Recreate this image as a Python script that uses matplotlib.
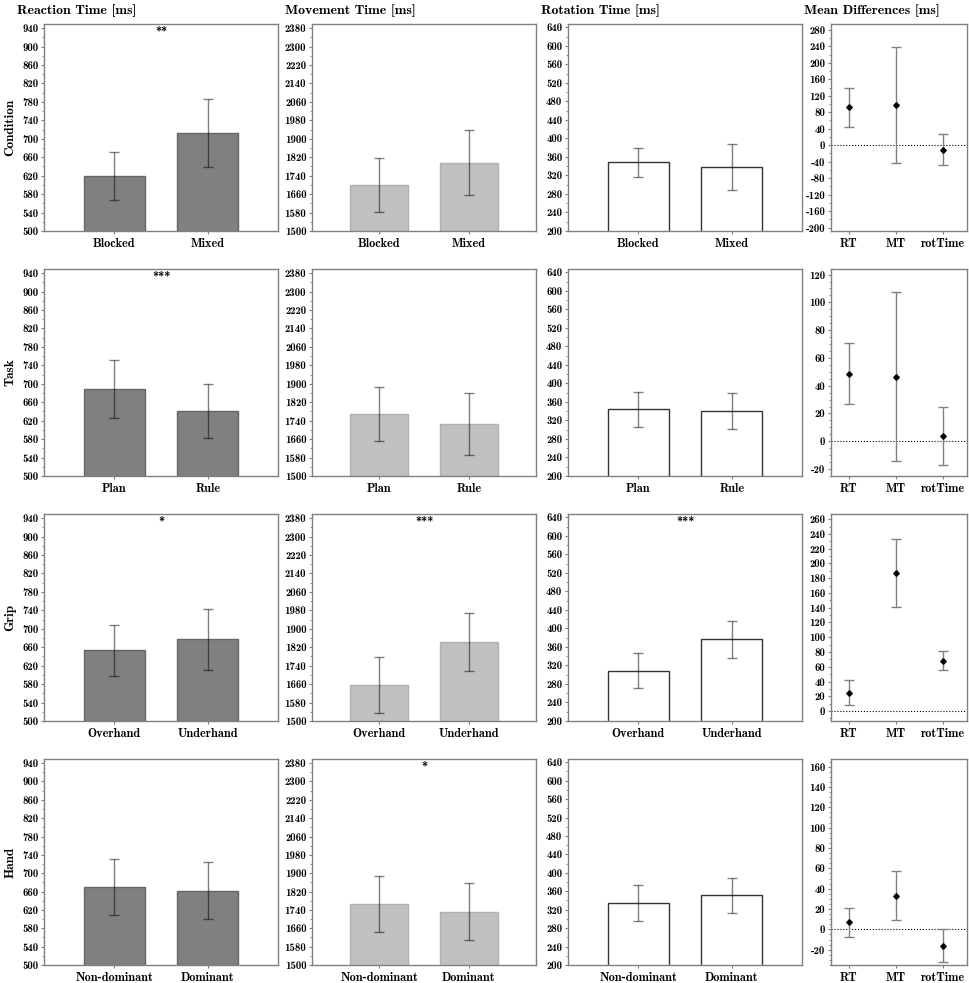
import matplotlib.pyplot as plt
import numpy as np
from matplotlib.ticker import FixedLocator, AutoMinorLocator

plt.rcParams['font.family'] = ['cmb10', 'DejaVu Serif']
plt.rcParams['axes.unicode_minus'] = False

# datos
rows = ['Condition', 'Task', 'Grip', 'Hand']
titles = ['Reaction Time [ms]', 'Movement Time [ms]', 'Rotation Time [ms]', 'Mean Differences [ms]']
cats = [['Blocked', 'Mixed'], ['Plan', 'Rule'], ['Overhand', 'Underhand'], ['Non-dominant', 'Dominant']]

rt_mean = [[620, 712], [689, 641], [653, 677], [669, 662]]
rt_err = [[52, 74], [63, 59], [55, 66], [61, 62]]
mt_mean = [[1701, 1797], [1771, 1725], [1656, 1842], [1765, 1732]]
mt_err = [[117, 142], [117, 134], [122, 126], [121, 125]]
rot_mean = [[348, 338], [344, 340], [309, 377], [335, 351]]
rot_err = [[32, 49], [38, 39], [37, 40], [39, 38]]

diff_labels = ['RT', 'MT', 'rotTime']
diff_mean = [[92, 98, -11], [48.5, 46.5, 4], [25, 187, 68], [7, 33, -16]]
diff_err = [[48, 141, 38], [22, 61, 21], [17, 46, 13], [14, 24, 16]]

stars = [['**', '', ''], ['***', '', ''], ['*', '***', '***'], ['', '*', '']]

# estilos
W, H = 970, 983
cols_px = [(44, 278), (312, 536), (568, 802), (831, 967)]
rows_px = [(24, 231), (269, 476), (514, 721), (759, 965)]
bar_style = [dict(color='#808080', edgecolor='#666666'),
             dict(color='#c0c0c0', edgecolor='#b0b0b0'),
             dict(color='white', edgecolor='#333333')]
# (ymin, ymax, primer tick, paso)
bar_lims = [(500, 949, 500, 40), (1500, 2398, 1500, 80), (200, 647, 200, 40)]
diff_lims = [(-208, 294, -200, 40), (-25, 124, -20, 20), (-13.5, 267, 0, 20), (-35, 167.5, -20, 20)]
diff_minor = [2, 4, 2, 4]
spine_c = '#808080'

fig = plt.figure(figsize=(W / 100, H / 100), dpi=100)


def make_ax(r, c):
    x0, x1 = cols_px[c]
    y0, y1 = rows_px[r]
    ax = fig.add_axes([x0 / W, 1 - y1 / H, (x1 - x0) / W, (y1 - y0) / H])
    for s in ax.spines.values():
        s.set_color(spine_c)
        s.set_linewidth(1.0)
    ax.tick_params(axis='both', which='both', color=spine_c, direction='out')
    ax.tick_params(axis='y', which='major', length=2.5, labelsize=7.8, pad=1.5)
    ax.tick_params(axis='y', which='minor', length=1.5)
    ax.tick_params(axis='x', length=2, labelsize=8.8, pad=3)
    return ax


def set_yticks(ax, lims, nminor):
    lo, hi, first, st = lims
    ax.set_ylim(lo, hi)
    ax.yaxis.set_major_locator(FixedLocator(np.arange(first, hi + 0.01, st)))
    ax.yaxis.set_minor_locator(AutoMinorLocator(nminor))


for r in range(4):
    means = [rt_mean[r], mt_mean[r], rot_mean[r]]
    errs = [rt_err[r], mt_err[r], rot_err[r]]
    for c in range(3):
        ax = make_ax(r, c)
        x = np.arange(1, 3)
        ax.bar(x, means[c], width=0.65, linewidth=1.0, **bar_style[c])
        ax.errorbar(x, means[c], yerr=errs[c], fmt='none', ecolor='black',
                    alpha=0.5, elinewidth=1.0, capsize=3.3, capthick=1.0)
        set_yticks(ax, bar_lims[c], 2)
        ax.set_xlim(0.25, 2.75)
        ax.set_xticks(x)
        ax.set_xticklabels(cats[r])
        if stars[r][c]:
            ax.text(0.5, 0.955, stars[r][c], transform=ax.transAxes,
                    ha='center', va='center', fontsize=9)
        if c == 0:
            ax.set_ylabel(rows[r], fontsize=9.5, labelpad=4)

    ax = make_ax(r, 3)
    xd = np.arange(1, 4)
    ax.axhline(0, color='black', linestyle=':', linewidth=0.8)
    ax.errorbar(xd, diff_mean[r], yerr=diff_err[r], fmt='none', ecolor='#808080',
                elinewidth=1.0, capsize=3.3, capthick=1.0)
    ax.plot(xd, diff_mean[r], 'D', color='black', markersize=2.8)
    set_yticks(ax, diff_lims[r], diff_minor[r])
    ax.set_xlim(0.62, 3.52)
    ax.set_xticks(xd)
    ax.set_xticklabels(diff_labels)

for c in range(4):
    fig.text((cols_px[c][0] - 27) / W, 1 - 11 / H, titles[c],
             ha='left', va='center', fontsize=10)

fig.savefig('out.png', dpi=100)
